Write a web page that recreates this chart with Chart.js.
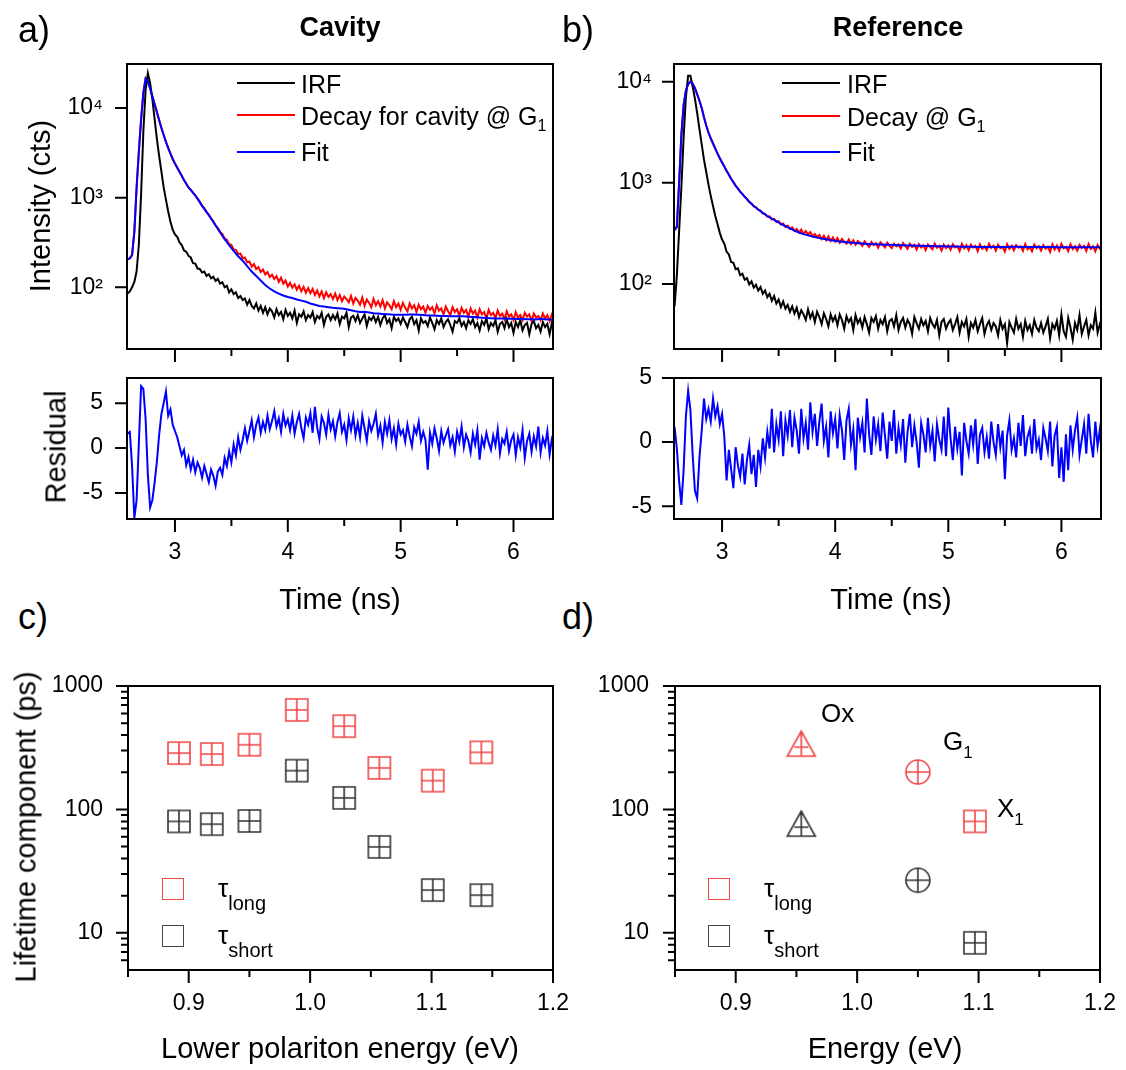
<!DOCTYPE html>
<html>
<head>
<meta charset="utf-8">
<title>Cavity vs reference decays</title>
<script src="https://cdn.jsdelivr.net/npm/chart.js@4.4.1/dist/chart.umd.min.js"></script>
<style>
  html, body { margin: 0; padding: 0; background: #fff; overflow: hidden; }
  #fig { position: relative; width: 1126px; height: 1070px; font-family: 'Liberation Sans', Arial, sans-serif; color: #000; }
  #fig canvas { position: absolute; }
  .txt { position: absolute; line-height: 1; white-space: nowrap; }
  .panel { font-size: 36px; }
  .head { font-size: 27px; font-weight: bold; transform: translateX(-50%); }
  .axis { font-size: 29px; transform: translate(-50%, -50%); }
  .axis.rot { transform: translate(-50%, -50%) rotate(-90deg); }
  .key { font-size: 25px; transform: translateY(-50%); }
  .key sub { font-size: 16px; vertical-align: -6px; line-height: 0; }
  .swatch { position: absolute; height: 2px; width: 58px; }
  .box { position: absolute; width: 20px; height: 20px; border: 1.5px solid; }
  .tau { font-size: 26px; }
  .tau sub { font-size: 20px; vertical-align: -13px; line-height: 0; }
  .state { font-size: 26px; }
  .state sub { font-size: 17px; vertical-align: -8px; line-height: 0; }
</style>
</head>
<body>
<div id="fig">
  <canvas id="cavityDecay" width="580" height="340" style="left:0;top:40px"></canvas>
  <canvas id="cavityResidual" width="580" height="245" style="left:0;top:345px"></canvas>
  <canvas id="referenceDecay" width="579" height="340" style="left:547px;top:40px"></canvas>
  <canvas id="referenceResidual" width="579" height="245" style="left:547px;top:345px"></canvas>
  <canvas id="cavityLifetime" width="580" height="410" style="left:0;top:660px"></canvas>
  <canvas id="referenceLifetime" width="579" height="410" style="left:547px;top:660px"></canvas>

  <!-- panel letters and titles -->
  <div class="txt panel" style="left:18px;top:12px">a)</div>
  <div class="txt panel" style="left:562px;top:12px">b)</div>
  <div class="txt panel" style="left:18px;top:599px">c)</div>
  <div class="txt panel" style="left:562px;top:599px">d)</div>
  <div class="txt head" style="left:340px;top:14px">Cavity</div>
  <div class="txt head" style="left:898px;top:14px">Reference</div>

  <!-- axis titles -->
  <div class="txt axis rot" style="left:40px;top:206px">Intensity (cts)</div>
  <div class="txt axis rot" style="left:56px;top:447px">Residual</div>
  <div class="txt axis rot" style="left:26px;top:827px">Lifetime component (ps)</div>
  <div class="txt axis" style="left:340px;top:599px">Time (ns)</div>
  <div class="txt axis" style="left:891px;top:599px">Time (ns)</div>
  <div class="txt axis" style="left:340px;top:1048px">Lower polariton energy (eV)</div>
  <div class="txt axis" style="left:885px;top:1048px">Energy (eV)</div>

  <!-- line legends -->
  <div class="swatch" style="left:237px;top:82px;background:#000"></div>
  <div class="swatch" style="left:237px;top:114px;background:#f00"></div>
  <div class="swatch" style="left:237px;top:151px;background:#00f"></div>
  <div class="txt key" style="left:301px;top:84px">IRF</div>
  <div class="txt key" style="left:301px;top:116px">Decay for cavity @ G<sub>1</sub></div>
  <div class="txt key" style="left:301px;top:152px">Fit</div>

  <div class="swatch" style="left:782px;top:82px;background:#000"></div>
  <div class="swatch" style="left:782px;top:115px;background:#f00"></div>
  <div class="swatch" style="left:782px;top:151px;background:#00f"></div>
  <div class="txt key" style="left:847px;top:84px">IRF</div>
  <div class="txt key" style="left:847px;top:117px">Decay @ G<sub>1</sub></div>
  <div class="txt key" style="left:847px;top:152px">Fit</div>

  <!-- lifetime legends -->
  <div class="box" style="left:162px;top:878px;border-color:#ee4444"></div>
  <div class="box" style="left:162px;top:925px;border-color:#444"></div>
  <div class="txt tau" style="left:218px;top:875px">τ<sub>long</sub></div>
  <div class="txt tau" style="left:218px;top:922px">τ<sub>short</sub></div>

  <div class="box" style="left:708px;top:878px;border-color:#ee4444"></div>
  <div class="box" style="left:708px;top:925px;border-color:#444"></div>
  <div class="txt tau" style="left:764px;top:875px">τ<sub>long</sub></div>
  <div class="txt tau" style="left:764px;top:922px">τ<sub>short</sub></div>

  <!-- state labels in d -->
  <div class="txt state" style="left:821px;top:700px">Ox</div>
  <div class="txt state" style="left:943px;top:728px">G<sub>1</sub></div>
  <div class="txt state" style="left:997px;top:795px">X<sub>1</sub></div>
</div>

<script>
// ====================
// Data
// ====================

// time channels of the measured traces (IRF, decays, residuals)
const timeDenseNs = [
  2.58, 2.60, 2.62, 2.64, 2.66, 2.68, 2.70, 2.72, 2.74, 2.76, 2.78,
  2.80, 2.82, 2.84, 2.86, 2.88, 2.90, 2.92, 2.94, 2.96, 2.98, 3.00,
  3.02, 3.04, 3.06, 3.08, 3.10, 3.12, 3.14, 3.16, 3.18, 3.20,
  3.22, 3.24, 3.26, 3.28, 3.30, 3.32, 3.34, 3.36, 3.38, 3.40,
  3.42, 3.44, 3.46, 3.48, 3.50, 3.52, 3.54, 3.56, 3.58, 3.60,
  3.62, 3.64, 3.66, 3.68, 3.70, 3.72, 3.74, 3.76, 3.78, 3.80,
  3.82, 3.84, 3.86, 3.88, 3.90, 3.92, 3.94, 3.96, 3.98, 4.00,
  4.02, 4.04, 4.06, 4.08, 4.10, 4.12, 4.14, 4.16, 4.18, 4.20,
  4.22, 4.24, 4.26, 4.28, 4.30, 4.32, 4.34, 4.36, 4.38, 4.40,
  4.42, 4.44, 4.46, 4.48, 4.50, 4.52, 4.54, 4.56, 4.58, 4.60,
  4.62, 4.64, 4.66, 4.68, 4.70, 4.72, 4.74, 4.76, 4.78, 4.80,
  4.82, 4.84, 4.86, 4.88, 4.90, 4.92, 4.94, 4.96, 4.98, 5.00,
  5.02, 5.04, 5.06, 5.08, 5.10, 5.12, 5.14, 5.16, 5.18, 5.20,
  5.22, 5.24, 5.26, 5.28, 5.30, 5.32, 5.34, 5.36, 5.38, 5.40,
  5.42, 5.44, 5.46, 5.48, 5.50, 5.52, 5.54, 5.56, 5.58, 5.60,
  5.62, 5.64, 5.66, 5.68, 5.70, 5.72, 5.74, 5.76, 5.78, 5.80,
  5.82, 5.84, 5.86, 5.88, 5.90, 5.92, 5.94, 5.96, 5.98, 6.00,
  6.02, 6.04, 6.06, 6.08, 6.10, 6.12, 6.14, 6.16, 6.18, 6.20,
  6.22, 6.24, 6.26, 6.28, 6.30, 6.32, 6.34, 6.36
];

// time points of the fit curves
const timeFitNs = [
  2.58, 2.60, 2.62, 2.64, 2.66, 2.68, 2.70, 2.72, 2.74, 2.76, 2.78,
  2.80, 2.82, 2.84, 2.86, 2.88, 2.90, 2.92, 2.94, 2.96, 2.98, 3.00,
  3.04, 3.08, 3.12, 3.16, 3.20, 3.24, 3.28, 3.32, 3.36, 3.40, 3.44, 3.48, 3.52,
  3.56, 3.60, 3.64, 3.68, 3.72, 3.76, 3.80, 3.84, 3.88, 3.92, 3.96, 4.00,
  4.04, 4.08, 4.12, 4.16, 4.20, 4.24, 4.28, 4.32, 4.36, 4.40, 4.44, 4.48, 4.52,
  4.56, 4.60, 4.64, 4.68, 4.72, 4.76, 4.80, 4.84, 4.88, 4.92, 4.96, 5.00,
  5.04, 5.08, 5.12, 5.16, 5.20, 5.24, 5.28, 5.32, 5.36, 5.40, 5.44, 5.48, 5.52,
  5.56, 5.60, 5.64, 5.68, 5.72, 5.76, 5.80, 5.84, 5.88, 5.92, 5.96, 6.00,
  6.04, 6.08, 6.12, 6.16, 6.20, 6.24, 6.28, 6.32, 6.36
];

// a) cavity
const irfCavity = [
  85, 90, 100, 115, 150, 300, 1100, 5500, 16000, 24500, 19000,
  12500, 7500, 4500, 2900, 1950, 1300, 950, 700, 540, 440, 390,
  365, 318, 296, 258, 250, 224, 215, 186, 184, 162,
  160, 146, 150, 134, 140, 126, 131, 118, 124, 110,
  114, 100, 104, 88, 95, 84, 88, 76, 80, 72,
  75, 64, 72, 62, 58, 66, 55, 62, 52, 60,
  50, 58, 54, 46, 57, 49, 53, 44, 56, 48,
  52, 45, 55, 40, 50, 47, 54, 43, 49, 46,
  53, 41, 48, 45, 52, 38, 47, 50, 43, 49,
  44, 51, 39, 47, 45, 52, 36, 46, 48, 42,
  49, 40, 45, 50, 37, 46, 43, 48, 41, 47,
  38, 45, 49, 40, 44, 35, 47, 42, 45, 39,
  46, 41, 36, 44, 47, 39, 43, 33, 45, 40,
  42, 37, 46, 40, 34, 43, 39, 45, 36, 41,
  44, 38, 32, 42, 40, 45, 37, 41, 35, 43,
  39, 44, 36, 40, 33, 42, 38, 45, 34, 40,
  37, 43, 32, 39, 41, 35, 44, 36, 40, 31,
  41, 36, 43, 33, 38, 40, 30, 39, 42, 35,
  38, 32, 41, 36, 39, 30, 40, 35
];
const decayCavity = [
  205, 212, 230, 420, 1300, 3300, 7500, 15000, 21500, 20000, 16500,
  13500, 11000, 9000, 7300, 6000, 5000, 4200, 3600, 3100, 2700, 2400,
  2160, 1950, 1770, 1565, 1430, 1300, 1230, 1130, 1070, 975,
  905, 815, 765, 695, 648, 585, 548, 490, 462, 415,
  395, 350, 340, 302, 298, 265, 262, 236, 238, 212,
  214, 190, 194, 170, 182, 160, 168, 148, 158, 139,
  148, 130, 138, 124, 133, 115, 128, 110, 119, 102,
  112, 99, 108, 94, 104, 90, 101, 87, 98, 86,
  96, 82, 92, 79, 90, 76, 88, 78, 84, 74,
  85, 72, 82, 70, 79, 74, 68, 80, 66, 76,
  71, 64, 77, 62, 73, 67, 60, 74, 63, 70,
  61, 72, 58, 68, 63, 57, 70, 60, 66, 56,
  67, 59, 54, 66, 58, 63, 53, 64, 57, 61,
  52, 62, 56, 60, 51, 63, 55, 58, 50, 61,
  54, 49, 60, 53, 57, 48, 59, 52, 56, 47,
  58, 51, 55, 46, 57, 50, 53, 45, 56, 49,
  52, 45, 55, 48, 51, 44, 54, 47, 50, 43,
  53, 46, 49, 43, 52, 47, 50, 42, 51, 46,
  48, 43, 51, 45, 49, 42, 50, 46
];
const fitCavity = [
  205, 210, 228, 410, 1280, 3250, 7400, 14800, 21200, 19900, 16500,
  13500, 11000, 9000, 7300, 6000, 5000, 4200, 3600, 3100, 2700, 2400,
  1950, 1570, 1300, 1140, 975, 810, 690, 585, 490, 410, 345, 295, 255,
  222, 198, 172, 150, 134, 119, 106, 97, 90, 85, 81, 78,
  76, 73, 71, 69, 66, 64, 62, 61, 60, 59, 58.5, 58, 57,
  55.5, 54, 53, 53.5, 52.5, 51.5, 51, 50.5, 50, 49.6, 49.5, 49.4,
  49.5, 49.8, 49.6, 49.3, 49.0, 48.6, 48.4, 48.2, 48.0, 47.8, 47.6, 47.5, 47.4,
  47.4, 47.0, 46.6, 46.2, 45.8, 45.5, 45.2, 45.0, 44.9, 44.8, 44.6, 44.5,
  44.3, 44.2, 44.1, 44.0, 43.8, 44.5, 44.0, 43.6, 43.5
];
const residualCavity = [
  1.6, 1.8, -2.0, -7.8, -5.8, 0.5, 6.9, 6.6, 3.2, -3.0, -6.6,
  -5.8, -3.8, -1.5, 1.5, 3.8, 5.0, 6.3, 3.6, 4.3, 2.6, 1.9,
  1.2, 0.2, -0.8, -0.2, -1.9, -1.0, -2.4, -1.3, -2.7, -1.6,
  -2.2, -3.3, -2.0, -2.9, -3.8, -2.4, -3.1, -4.2, -2.6, -2.2,
  -3.0, -1.1, -2.0, -0.4, -1.6, 0.4, -0.8, 1.2, -0.2, 0.9,
  2.2, 0.8, 1.9, 3.1, 1.2, 2.6, 3.4, 1.7, 2.9, 2.0,
  3.6, 2.1, 3.0, 4.1, 2.4, 3.3, 1.8, 3.8, 2.5, 3.2,
  2.0, 3.6, 1.6, 2.9, 3.8, 2.2, 1.1, 3.4, 2.6, 3.9,
  1.7, 4.6, 2.3, 1.0, 3.5, 2.8, 1.5, 3.7, 2.1, 3.0,
  1.3, 2.9, 3.9, 1.8, 2.6, 0.9, 3.3, 2.0, 3.5, 1.4,
  2.8, 1.2, 3.6, 2.2, 0.8, 3.0, 1.9, 2.7, 3.8, 1.4,
  2.5, 0.6, 2.9, 1.6, 3.1, 1.0, 2.2, 0.4, 2.7, 1.5,
  2.0, 0.7, 2.6, 1.3, 0.2, 2.3, 1.6, 2.9, 0.8, 1.8,
  0.9, -2.4, 1.7, 0.5, 2.2, 1.1, -0.3, 1.9, 0.6, 1.4,
  2.1, 0.3, 1.2, -0.4, 1.8, 0.7, 2.4, 0.1, 1.5, 0.8,
  -0.5, 1.6, 0.4, 2.0, -1.3, 1.1, 0.2, 1.7, 0.6, -0.2,
  1.4, 0.3, 2.1, -0.6, 1.0, 0.5, 1.8, -0.3, 0.9, 1.5,
  -0.8, 1.2, 0.1, 2.0, -1.1, 0.8, 1.6, -0.4, 1.3, 0.2,
  2.4, -0.5, 1.1, 0.3, 1.9, -0.7, 1.0, 0.4
];

// b) reference
const irfReference = [
  60, 120, 330, 900, 2800, 7000, 11500, 11500, 9000, 6800, 4900,
  3400, 2400, 1700, 1280, 960, 740, 590, 470, 390, 320, 275,
  250, 208, 196, 165, 162, 140, 143, 122, 126, 110,
  114, 99, 106, 92, 98, 86, 93, 80, 86, 74,
  80, 68, 76, 64, 70, 59, 67, 57, 62, 53,
  60, 51, 58, 47, 55, 50, 44, 56, 46, 52,
  42, 53, 47, 40, 51, 45, 38, 50, 43, 48,
  39, 50, 44, 36, 48, 42, 46, 35, 49, 41,
  45, 37, 47, 40, 33, 46, 42, 48, 36, 44,
  40, 47, 34, 43, 45, 38, 49, 35, 42, 46,
  37, 44, 40, 32, 47, 41, 36, 45, 39, 43,
  34, 46, 40, 37, 44, 31, 42, 45, 36, 41,
  44, 35, 40, 47, 33, 42, 38, 45, 30, 41,
  37, 44, 34, 40, 46, 32, 39, 43, 35, 41,
  38, 31, 44, 36, 40, 26, 42, 37, 33, 45,
  36, 40, 30, 43, 35, 39, 32, 44, 37, 34,
  41, 33, 38, 45, 29, 40, 36, 43, 31, 50,
  34, 30, 46, 37, 28, 41, 35, 49, 32, 38,
  44, 31, 39, 36, 52, 33, 40, 35
];
const decayReference = [
  340, 370, 1000, 3000, 5900, 8200, 9500, 10100, 9600, 8700, 7500,
  6500, 5500, 4450, 3700, 3150, 2750, 2450, 2180, 1950, 1750, 1590,
  1450, 1310, 1210, 1090, 1020, 935, 880, 815, 778, 725,
  695, 645, 625, 585, 575, 540, 532, 498, 495, 462,
  466, 436, 440, 410, 418, 388, 396, 366, 378, 350,
  362, 334, 350, 322, 345, 312, 334, 308, 325, 296,
  312, 290, 306, 278, 300, 271, 296, 266, 288, 262,
  284, 256, 279, 262, 250, 276, 248, 270, 244, 266,
  255, 238, 264, 247, 232, 260, 242, 252, 228, 258,
  244, 230, 256, 238, 226, 250, 235, 246, 224, 254,
  236, 222, 250, 232, 244, 219, 248, 229, 240, 216,
  246, 231, 220, 251, 228, 238, 214, 245, 226, 240,
  218, 247, 230, 236, 212, 249, 225, 241, 215, 244,
  229, 238, 211, 246, 223, 235, 216, 250, 227, 239,
  213, 244, 226, 233, 209, 247, 222, 238, 215, 242,
  228, 236, 212, 248, 220, 231, 210, 245, 226, 237,
  214, 242, 223, 234, 208, 246, 219, 240, 213, 249,
  225, 233, 211, 247, 221, 236, 214, 244, 227, 238,
  212, 248, 222, 235, 210, 243, 224, 239
];
const fitReference = [
  340, 365, 980, 2950, 5850, 8150, 9450, 10000, 9550, 8650, 7500,
  6500, 5500, 4450, 3700, 3150, 2750, 2450, 2180, 1950, 1750, 1590,
  1320, 1100, 940, 820, 730, 650, 590, 545, 505, 470, 442, 418, 393,
  373, 354, 337, 323, 311, 302, 294, 287, 281, 276, 271, 267,
  263, 260, 257, 255, 253, 251, 249, 247.5, 246.5, 245.5, 244.5, 243.5, 242.5,
  241.5, 241, 240, 239.5, 238.5, 238, 237.5, 237, 236.5, 236, 235.5, 235,
  234.5, 234, 233.5, 233, 233, 232.5, 232.5, 232, 232, 232, 232, 232, 232.5,
  233, 233, 232.5, 232, 232, 232, 231.5, 231.5, 231.5, 231.5, 231, 231,
  231, 231, 231, 231, 231, 231, 231, 231, 231
];
const residualReference = [
  1.2, -0.5, -3.0, -4.9, -2.2, 2.0, 4.0, 2.5, -1.0, -3.8, -4.4,
  -1.2, 0.9, 3.4, 1.8, 2.6, 1.6, 3.4, 2.0, 2.8, 1.4, 2.2,
  0.4, -3.0, -0.6, -2.1, -3.6, -0.4, -1.8, -2.7, -0.9, -3.3,
  -1.4, -0.2, -2.5, -1.0, -3.5, -0.6, -1.9, 0.3, -1.2, 0.8,
  -0.5, 2.6, -0.8, 1.4, 0.2, 2.4, -1.1, 1.7, 0.5, 2.5,
  -0.4, 1.9, 0.9, -0.9, 2.6, 0.3, 1.5, -0.6, 3.1, 0.8,
  2.2, -0.3, 1.6, 3.0, 0.1, 1.2, -1.2, 2.4, 0.7, 1.8,
  -0.5, 2.1, 0.9, -1.4, 1.7, 2.6, -0.2, 1.0, -2.2, 1.9,
  0.4, 1.5, -0.8, 3.4, 0.6, -1.0, 2.0, 0.2, 1.4, -0.7,
  2.3, 0.5, -1.3, 1.6, 0.1, 2.5, -0.9, 1.1, -0.2, 1.8,
  -1.6, 0.8, 2.2, -0.4, 1.3, 0.0, -2.0, 1.5, 0.6, -0.8,
  1.9, -0.3, 0.9, -1.5, 1.4, 0.2, -0.6, 2.0, -1.1, 2.7,
  0.3, -1.4, 1.2, -0.5, 0.8, -2.6, 1.5, 0.1, -0.9, 1.3,
  -0.2, 1.8, -1.7, 0.6, 1.1, -0.8, 0.4, -1.3, 1.6, 0.0,
  -1.0, 1.4, -0.4, 0.9, -2.9, 0.5, 1.7, -0.6, 0.3, -1.2,
  1.5, -0.3, 2.1, -1.1, 0.4, 1.0, -0.9, 1.8, -0.5, 0.2,
  -1.4, 1.1, 0.3, -0.7, 1.6, -1.9, 0.5, 1.2, -2.8, -0.4,
  -3.1, 0.6, -2.2, 1.3, -0.6, 0.9, 1.9, -1.0, 0.2, 1.4,
  -0.9, 2.2, 0.1, -1.2, 1.6, -0.3, 1.0, -1.4
];

// c) lifetimes vs lower polariton energy
const lpEnergy = [0.892, 0.919, 0.950, 0.989, 1.028, 1.057, 1.101, 1.141];
const tauLongCavity = [286, 281, 334, 640, 473, 217, 171, 290];
const tauShortCavity = [80, 76, 80.6, 206, 124, 49.7, 22.2, 20.2];

// d) lifetimes of the reference states (Ox, G1, X1)
const stateEnergy = [0.954, 1.050, 1.097];
const tauLongReference = [338, 201, 80];
const tauShortReference = [76, 26.7, 8.3];

// tick values and labels
const timeTicks = [3, 4, 5, 6];
const timeMinorTicks = [3.5, 4.5, 5.5];
const intensityTicks = [100, 1000, 10000];
const intensityTickLabels = ['10²', '10³', '10⁴'];
const residualTicks = [-5, 0, 5];
const residualTickLabels = ['-5', '0', '5'];
const energyTicks = [0.9, 1.0, 1.1, 1.2];
const energyMinorTicks = [0.85, 0.95, 1.05, 1.15];
const energyTickLabels = ['0.9', '1.0', '1.1', '1.2'];
const lifetimeTicks = [10, 100, 1000];
const lifetimeMinorTicks = [6, 7, 8, 9, 20, 30, 40, 50, 60, 70, 80, 90, 200, 300, 400, 500, 600, 700, 800, 900];
const lifetimeTickLabels = ['10', '100', '1000'];

// ====================
// Helpers
// ====================
Chart.defaults.font.family = "'Liberation Sans', Arial, sans-serif";
Chart.defaults.font.size = 23;
Chart.defaults.color = '#000';

const MARK_RED = '#f04646';
const MARK_BLACK = '#333333';

function pts(xs, ys) {
  return xs.map((x, i) => ({ x, y: ys[i] }));
}

function fixedTicks(values) {
  return axis => { axis.ticks = values.map(v => ({ value: v })); };
}

// fixed axis size, and no extra label padding pushed into the layout
function fixSize(prop, size) {
  return s => {
    s[prop] = size;
    s.paddingTop = 0;
    s.paddingBottom = 0;
    s.paddingLeft = 0;
    s.paddingRight = 0;
  };
}

// box around the plot area + outward tick marks on left and bottom
function frame(xMajor, xMinor, yMajor, yMinor) {
  return {
    id: 'frame',
    afterDatasetsDraw(chart) {
      const { ctx, chartArea: a, scales } = chart;
      const x = scales.x, y = scales.y;
      ctx.save();
      ctx.strokeStyle = '#000';
      ctx.lineWidth = 2;
      ctx.strokeRect(a.left, a.top, a.right - a.left, a.bottom - a.top);
      ctx.beginPath();
      xMajor.forEach(v => { const p = x.getPixelForValue(v); ctx.moveTo(p, a.bottom); ctx.lineTo(p, a.bottom + 13); });
      yMajor.forEach(v => { const p = y.getPixelForValue(v); ctx.moveTo(a.left, p); ctx.lineTo(a.left - 12, p); });
      ctx.stroke();
      ctx.beginPath();
      xMinor.forEach(v => { const p = x.getPixelForValue(v); ctx.moveTo(p, a.bottom); ctx.lineTo(p, a.bottom + 7); });
      yMinor.forEach(v => { const p = y.getPixelForValue(v); ctx.moveTo(a.left, p); ctx.lineTo(a.left - 7, p); });
      ctx.stroke();
      ctx.restore();
    }
  };
}

// open symbol with a cross inside, used as point image
function marker(shape, color) {
  const c = document.createElement('canvas');
  c.width = 32;
  c.height = 32;
  const g = c.getContext('2d');
  g.strokeStyle = color;
  g.lineWidth = 1.6;
  g.beginPath();
  if (shape === 'square') {
    g.rect(5, 5, 22, 22);
    g.moveTo(16, 5); g.lineTo(16, 27);
    g.moveTo(5, 16); g.lineTo(27, 16);
  } else if (shape === 'triangle') {
    g.moveTo(16, 3); g.lineTo(30, 28); g.lineTo(2, 28); g.closePath();
    g.moveTo(16, 3); g.lineTo(16, 28);
    g.moveTo(9, 19); g.lineTo(23, 19);
  } else {
    g.arc(16, 16, 12, 0, Math.PI * 2);
    g.moveTo(4, 16); g.lineTo(28, 16);
    g.moveTo(16, 4); g.lineTo(16, 28);
  }
  g.stroke();
  return c;
}

const base = {
  responsive: false,
  animation: false,
  devicePixelRatio: 1,
  events: [],
  plugins: { legend: { display: false }, tooltip: { enabled: false } }
};

function timeAxis(showLabels, height) {
  return {
    type: 'linear', min: 2.575, max: 6.35,
    grid: { display: false, drawTicks: false },
    border: { display: false },
    afterBuildTicks: fixedTicks(timeTicks),
    ticks: { display: showLabels, padding: 20, autoSkip: false, maxRotation: 0, callback: v => String(v) },
    afterFit: fixSize('height', height)
  };
}

function leftAxis(type, min, max, ticks, labels, pad, width) {
  return {
    type, min, max,
    grid: { display: false, drawTicks: false },
    border: { display: false },
    afterBuildTicks: fixedTicks(ticks),
    ticks: { padding: pad, autoSkip: false, callback: (v, i) => labels[i] },
    afterFit: fixSize('width', width)
  };
}

// ====================
// Charts
// ====================
function decayChart(id, irf, decay, fit, yMin, yMax, pad, padRight) {
  return new Chart(document.getElementById(id), {
    type: 'line',
    data: {
      datasets: [
        { label: 'Fit', data: pts(timeFitNs, fit), borderColor: '#0000ff', order: 0 },
        { label: 'IRF', data: pts(timeDenseNs, irf), borderColor: '#000000', order: 1 },
        { label: 'Decay', data: pts(timeDenseNs, decay), borderColor: '#ff0000', order: 2 }
      ]
    },
    options: {
      ...base,
      elements: { point: { radius: 0 }, line: { borderWidth: 2, tension: 0 } },
      layout: { autoPadding: false, padding: { top: 24, right: padRight, bottom: 0, left: 0 } },
      scales: {
        x: timeAxis(false, 31),
        y: leftAxis('logarithmic', yMin, yMax, intensityTicks, intensityTickLabels, pad, 127)
      }
    },
    plugins: [frame(timeTicks, timeMinorTicks, intensityTicks, [])]
  });
}

function residualChart(id, residual, yMin, yMax, pad, padRight) {
  return new Chart(document.getElementById(id), {
    type: 'line',
    data: {
      datasets: [{ label: 'Residual', data: pts(timeDenseNs, residual), borderColor: '#0000ff' }]
    },
    options: {
      ...base,
      elements: { point: { radius: 0 }, line: { borderWidth: 2, tension: 0 } },
      layout: { autoPadding: false, padding: { top: 33, right: padRight, bottom: 0, left: 0 } },
      scales: {
        x: timeAxis(true, 71),
        y: leftAxis('linear', yMin, yMax, residualTicks, residualTickLabels, pad, 127)
      }
    },
    plugins: [frame(timeTicks, timeMinorTicks, residualTicks, [])]
  });
}

function lifetimeChart(id, xs, longVals, shortVals, longStyle, shortStyle, pad, padRight) {
  return new Chart(document.getElementById(id), {
    type: 'scatter',
    data: {
      datasets: [
        { label: 'τlong', data: pts(xs, longVals), pointStyle: longStyle, pointRadius: 11 },
        { label: 'τshort', data: pts(xs, shortVals), pointStyle: shortStyle, pointRadius: 11 }
      ]
    },
    options: {
      ...base,
      layout: { autoPadding: false, padding: { top: 26, right: padRight, bottom: 0, left: 0 } },
      scales: {
        x: {
          type: 'linear', min: 0.85, max: 1.2,
          grid: { display: false, drawTicks: false },
          border: { display: false },
          afterBuildTicks: fixedTicks(energyTicks),
          ticks: { padding: 20, autoSkip: false, maxRotation: 0, callback: (v, i) => energyTickLabels[i] },
          afterFit: fixSize('height', 100)
        },
        y: leftAxis('logarithmic', 5, 1000, lifetimeTicks, lifetimeTickLabels, pad, 128)
      }
    },
    plugins: [frame(energyTicks, energyMinorTicks, lifetimeTicks, lifetimeMinorTicks)]
  });
}

decayChart('cavityDecay', irfCavity, decayCavity, fitCavity, 20.5, 31000, 24, 27);
residualChart('cavityResidual', residualCavity, -7.9, 7.8, 24, 27);
decayChart('referenceDecay', irfReference, decayReference, fitReference, 22.7, 15000, 22, 25);
residualChart('referenceResidual', residualReference, -6, 5, 22, 25);

lifetimeChart('cavityLifetime', lpEnergy, tauLongCavity, tauShortCavity,
  marker('square', MARK_RED), marker('square', MARK_BLACK), 25, 27);

const stateShapes = ['triangle', 'circle', 'square'];
lifetimeChart('referenceLifetime', stateEnergy, tauLongReference, tauShortReference,
  stateShapes.map(s => marker(s, MARK_RED)), stateShapes.map(s => marker(s, MARK_BLACK)), 26, 26);
</script>
</body>
</html>
